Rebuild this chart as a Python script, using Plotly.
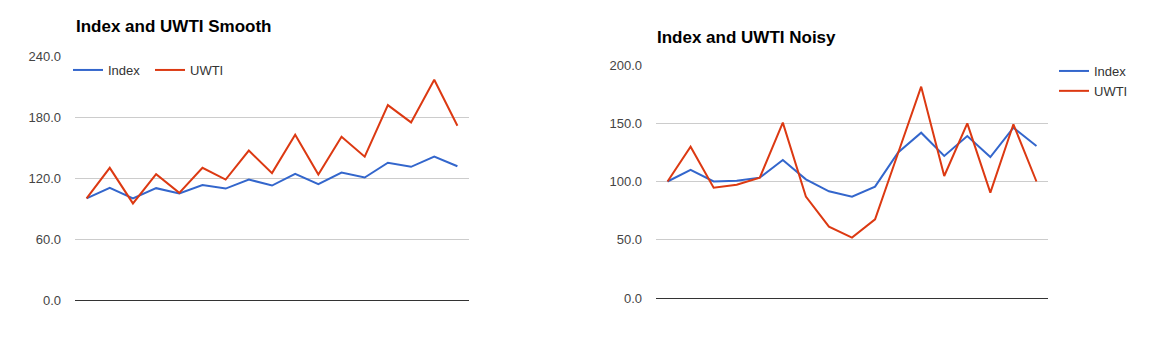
import plotly.graph_objects as go

x_cats = list(range(17))

smooth_index = [100, 110.3, 100, 110, 104.7, 113, 109.6, 118.5, 112.6, 124, 114, 125.4, 120.5, 135, 131, 141, 131.6]
smooth_uwti = [100, 130, 95, 123.8, 105.4, 130, 118.5, 147, 124.8, 162.5, 123.4, 160.5, 141, 191.7, 174.7, 216.7, 171.4]

noisy_index = [100, 110, 100, 100.7, 103.3, 118.5, 101.9, 91.6, 87, 95.6, 125, 141.9, 121.9, 139, 121, 146.2, 130.5]
noisy_uwti = [100, 129.9, 94.7, 97.3, 103.3, 150.5, 87, 61.2, 51.8, 67.5, 124.5, 181.4, 104.7, 149.9, 90.4, 149.1, 100]

smooth_ticks = [0, 60, 120, 180, 240]
noisy_ticks = [0, 50, 100, 150, 200]

titles = ["Index and UWTI Smooth", "Index and UWTI Noisy"]
series_names = ["Index", "UWTI"]
colors = ["#3366cc", "#dc3912"]

W, H = 1166, 352

def px_x(p):
    return p / W

def px_y(p):
    return 1 - p / H

fig = go.Figure()

for name, vals, col in zip(series_names, [smooth_index, smooth_uwti], colors):
    fig.add_trace(go.Scatter(x=x_cats, y=vals, mode="lines", name=name,
                             line=dict(color=col, width=2), xaxis="x", yaxis="y",
                             legend="legend", hoverinfo="skip"))
for name, vals, col in zip(series_names, [noisy_index, noisy_uwti], colors):
    fig.add_trace(go.Scatter(x=x_cats, y=vals, mode="lines", name=name,
                             line=dict(color=col, width=2), xaxis="x2", yaxis="y2",
                             legend="legend2", hoverinfo="skip"))

font_main = "Arial, Liberation Sans, sans-serif"
tickfont = dict(family=font_main, size=13, color="#444444")

common_x = dict(range=[-0.5, 16.5], showgrid=False, showticklabels=False, ticks="",
                zeroline=False, showline=True, linecolor="#333333", linewidth=1,
                fixedrange=True, automargin=False)
common_y = dict(showgrid=True, gridcolor="#cccccc", gridwidth=1, zeroline=False,
                showline=False, ticks="", tickfont=tickfont, tickformat=".1f",
                ticklabelstandoff=13, fixedrange=True, automargin=False)

fig.update_layout(
    width=W, height=H,
    margin=dict(l=0, r=0, t=0, b=0, autoexpand=False),
    paper_bgcolor="white", plot_bgcolor="white",
    xaxis=dict(domain=[px_x(75), px_x(469)], anchor="y", **common_x),
    yaxis=dict(domain=[px_y(300), px_y(56)], anchor="x", range=[0, 240],
               tickvals=smooth_ticks, **common_y),
    xaxis2=dict(domain=[px_x(656), px_x(1048)], anchor="y2", **common_x),
    yaxis2=dict(domain=[px_y(298), px_y(65)], anchor="x2", range=[0, 200],
                tickvals=noisy_ticks, **common_y),
    legend=dict(orientation="h", x=px_x(68), y=px_y(70), xanchor="left", yanchor="middle",
                font=dict(family=font_main, size=13, color="#333333"),
                bgcolor="rgba(0,0,0,0)", borderwidth=0, entrywidth=37, entrywidthmode="pixels"),
    legend2=dict(orientation="v", x=px_x(1054), y=px_y(56), xanchor="left", yanchor="top",
                 font=dict(family=font_main, size=13, color="#333333"),
                 bgcolor="rgba(0,0,0,0)", borderwidth=0),
    annotations=[
        dict(text="<b>%s</b>" % titles[0], x=px_x(74), y=px_y(27), xref="paper", yref="paper",
             xanchor="left", yanchor="middle", showarrow=False,
             font=dict(family=font_main, size=17, color="#000000")),
        dict(text="<b>%s</b>" % titles[1], x=px_x(655), y=px_y(38), xref="paper", yref="paper",
             xanchor="left", yanchor="middle", showarrow=False,
             font=dict(family=font_main, size=17, color="#000000")),
    ],
)

fig.write_html("out.html")
